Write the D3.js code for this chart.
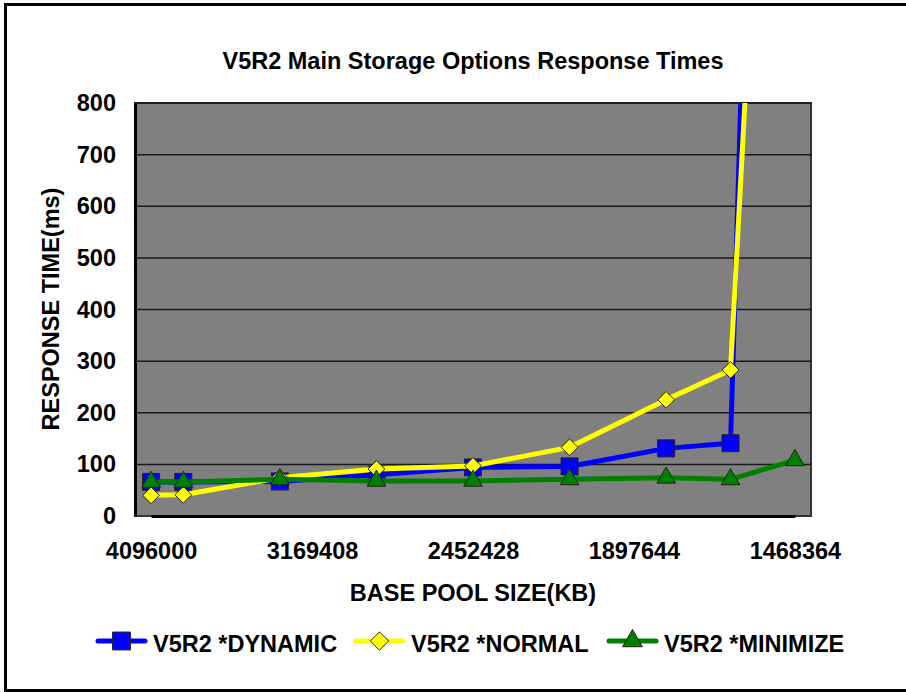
<!DOCTYPE html>
<html>
<head>
<meta charset="utf-8">
<script src="https://cdn.jsdelivr.net/npm/d3@7"></script>
<style>
    body { margin: 0; background: #fff; }
    text { font-family: "Liberation Sans", Arial, sans-serif; font-weight: bold; fill: #000; }
</style>
</head>
<body>
<div id="chart"></div>
<script>
// data
const poolSizes = [4096000, 3891200, 3336218, 2860390, 2452428, 2102649, 1802759, 1626990, 1468364];
const dynamicMs = [66, 66, 67, 80, 94, 96, 131, 141, 4300];
const normalMs = [40, 41, 74, 91, 97, 133, 225, 283, 2600];
const minimizeMs = [66, 66, 71, 68, 68, 71, 74, 71, 108];
const xTicks = [4096000, 3169408, 2452428, 1897644, 1468364];
const yTicks = [0, 100, 200, 300, 400, 500, 600, 700, 800];
const seriesNames = ["V5R2 *DYNAMIC", "V5R2 *NORMAL", "V5R2 *MINIMIZE"];

const w = 906, h = 692;
const margin = { left: 135, right: 95, top: 103, bottom: 176 };
const gw = w - margin.left - margin.right;
const gh = h - margin.top - margin.bottom;
// half a category at each end of the axis
const pad = gw / 42;

const svg = d3.select("#chart")
    .append("svg")
    .attr("width", w)
    .attr("height", h);

// outer frame
svg.append("rect")
    .attr("x", 5.5)
    .attr("y", 4.5)
    .attr("width", 910)
    .attr("height", 686)
    .attr("fill", "#fff")
    .attr("stroke", "#000")
    .attr("stroke-width", 3);

const graph = svg.append("g")
    .attr("transform", `translate(${margin.left},${margin.top})`);

//scales
const xScale = d3.scaleLog().domain([xTicks[0], xTicks[xTicks.length - 1]]).range([pad, gw - pad]);
const yScale = d3.scaleLinear().domain([0, 800]).range([gh, 0]);

// plot background
graph.append("rect")
    .attr("width", gw)
    .attr("height", gh)
    .attr("fill", "#808080")
    .attr("stroke", "#333")
    .attr("stroke-width", 2);

// grid lines
graph.append("g")
    .selectAll("line")
    .data(yTicks.slice(1))
    .join("line")
    .attr("x1", 0)
    .attr("x2", gw)
    .attr("y1", d => yScale(d))
    .attr("y2", d => yScale(d))
    .attr("stroke", "#1a1a1a")
    .attr("stroke-width", 1.5);

//axis
const yaxis = d3.axisLeft(yScale).tickValues(yTicks).tickSize(0).tickPadding(19);
const xaxis = d3.axisBottom(xScale).tickValues(xTicks).tickSize(0).tickPadding(26).tickFormat(d3.format("d"));

const ygrp = graph.append("g").call(yaxis);
const xgrp = graph.append("g").attr("transform", `translate(0,${gh})`).call(xaxis);
[ygrp, xgrp].forEach(g => {
    g.select(".domain").attr("stroke", "#000").attr("stroke-width", 3);
    g.selectAll("text")
        .attr("font-size", "23.5px")
        .attr("font-family", "Liberation Sans, Arial, sans-serif")
        .attr("font-weight", "bold")
        .attr("fill", "#000");
});

// excel style diamond: a square turned 45 degrees
const diamond = {
    draw(ctx, size) {
        const r = Math.sqrt(size / 2);
        ctx.moveTo(0, -r);
        ctx.lineTo(r, 0);
        ctx.lineTo(0, r);
        ctx.lineTo(-r, 0);
        ctx.closePath();
    }
};

// series lines and markers
svg.append("clipPath").attr("id", "plot-clip")
    .append("rect").attr("width", gw).attr("height", gh);

const series = [
    { name: seriesNames[0], values: dynamicMs, color: "#0000ff", shape: d3.symbolSquare, size: 290, lsize: 320 },
    { name: seriesNames[1], values: normalMs, color: "#ffff00", shape: diamond, size: 140, lsize: 170 },
    { name: seriesNames[2], values: minimizeMs, color: "#008000", shape: d3.symbolTriangle, size: 150, lsize: 170 }
];

const line = d3.line()
    .x(d => xScale(d[0]))
    .y(d => yScale(d[1]));

const plotted = graph.append("g").attr("clip-path", "url(#plot-clip)");

series.forEach(s => {
    const pts = poolSizes.map((p, i) => [p, s.values[i]]);
    plotted.append("path")
        .datum(pts)
        .attr("d", line)
        .attr("fill", "none")
        .attr("stroke", s.color)
        .attr("stroke-width", 5)
        .attr("stroke-linejoin", "round");
    plotted.selectAll(null)
        .data(pts)
        .join("path")
        .attr("d", d3.symbol().type(s.shape).size(s.size))
        .attr("transform", d => `translate(${xScale(d[0])},${yScale(d[1])})`)
        .attr("fill", s.color)
        .attr("stroke", "#222")
        .attr("stroke-width", 1);
});

//header
svg.append("text")
    .text("V5R2 Main Storage Options Response Times")
    .attr("x", 473)
    .attr("y", 69)
    .attr("text-anchor", "middle")
    .attr("font-size", "23.5px");

//label x axis
svg.append("text")
    .text("BASE POOL SIZE(KB)")
    .attr("x", 473)
    .attr("y", 601)
    .attr("text-anchor", "middle")
    .attr("font-size", "23.5px");

//label y axis
svg.append("text")
    .text("RESPONSE TIME(ms)")
    .attr("transform", "translate(59,309) rotate(-90)")
    .attr("text-anchor", "middle")
    .attr("font-size", "23.5px");

// legend
const legendX = [98, 356, 609];
const legend = svg.append("g");
series.forEach((s, i) => {
    const lg = legend.append("g").attr("transform", `translate(${legendX[i]},641)`);
    lg.append("line")
        .attr("x1", 0)
        .attr("x2", 47)
        .attr("stroke", s.color)
        .attr("stroke-width", 5)
        .attr("stroke-linecap", "round");
    lg.append("path")
        .attr("d", d3.symbol().type(s.shape).size(s.lsize))
        .attr("transform", "translate(23.5,0)")
        .attr("fill", s.color)
        .attr("stroke", "#222")
        .attr("stroke-width", 1);
    lg.append("text")
        .text(s.name)
        .attr("x", 55)
        .attr("y", 11)
        .attr("font-size", "23.5px");
});
</script>
</body>
</html>
